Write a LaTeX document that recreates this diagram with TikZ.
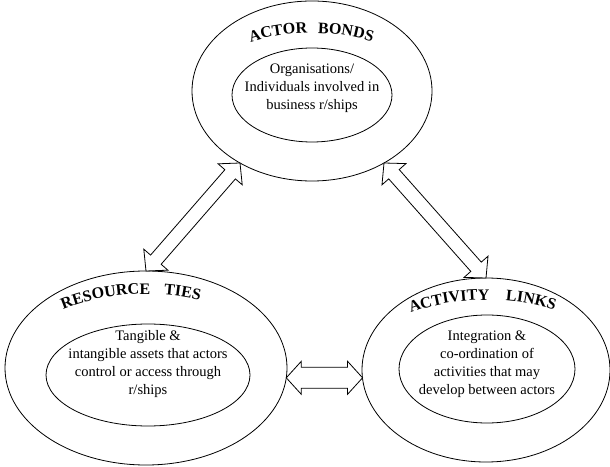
\documentclass[tikz,border=0pt]{standalone}
\usepackage{fontspec}
\setmainfont{Liberation Serif}
\usetikzlibrary{shapes.geometric,calc,decorations.text}
\newcommand\ttlfnt{\bfseries\fontsize{16}{16}\selectfont}
\newcommand\dblarrow[5]{%
  \coordinate (da1) at ($(#1)!#3!(#2)$);
  \coordinate (da2) at ($(#2)!#3!(#1)$);
  \draw[harrow] (#1) -- ($(da1)!#4!90:(#2)$) -- ($(da1)!#5!90:(#2)$)
    -- ($(da2)!#5!-90:(#1)$) -- ($(da2)!#4!-90:(#1)$) -- (#2)
    -- ($(da2)!#4!90:(#1)$) -- ($(da2)!#5!90:(#1)$)
    -- ($(da1)!#5!-90:(#2)$) -- ($(da1)!#4!-90:(#2)$) -- cycle;}
\begin{document}
\begin{tikzpicture}[x=1pt,y=1pt,
  ring/.style={ellipse,draw,line width=0.8pt,inner sep=0pt,outer sep=0pt},
  body/.style={align=center,font=\fontsize{14.5}{18}\selectfont,inner sep=0pt},
  harrow/.style={draw,line width=0.8pt,fill=white,line join=miter},
  ttl/.style={decorate,decoration={text along path,text align=center,text={|\ttlfnt|#1}}}]
\useasboundingbox (0,0) rectangle (610,466);
\fill[white] (0,0) rectangle (610,466);

% ACTOR BONDS
\node[ring,minimum width=240pt,minimum height=180pt] (actor) at (312,375) {};
\node[ring,minimum width=160pt,minimum height=94pt] (actorin) at (312,371) {};
\node[body] (actortxt) at (312,378) {Organisations/\\Individuals involved in\\business r/ships};
\path[ttl=ACTOR] (actor.center) ++(139:113pt and 58pt)
  arc[start angle=139,end angle=79,x radius=113pt,y radius=58pt];
\path[ttl=BONDS] (actor.center) ++(101:113pt and 58pt)
  arc[start angle=101,end angle=41,x radius=113pt,y radius=58pt];

% RESOURCE TIES
\node[ring,minimum width=282pt,minimum height=194pt] (resource) at (146,98) {};
\node[ring,minimum width=204pt,minimum height=102pt] (resourcein) at (148,91) {};
\node[body] (resourcetxt) at (148,102) {Tangible \&\\intangible assets that actors\\control or access through\\r/ships};
\path[ttl=RESOURCE] (resource.center) ++(139:135pt and 74pt)
  arc[start angle=139,end angle=79,x radius=135pt,y radius=74pt];
\path[ttl=TIES] (resource.center) ++(103:135pt and 74pt)
  arc[start angle=103,end angle=43,x radius=135pt,y radius=74pt];

% ACTIVITY LINKS
\node[ring,minimum width=248pt,minimum height=184pt] (activity) at (486,96) {};
\node[ring,minimum width=176pt,minimum height=108pt] (activityin) at (487,97) {};
\node[body] (activitytxt) at (487,101.5) {Integration \&\\co-ordination of\\activities that may\\develop between actors};
\path[ttl=ACTIVITY] (activity.center) ++(138:130pt and 70pt)
  arc[start angle=138,end angle=78,x radius=130pt,y radius=70pt];
\path[ttl=LINKS] (activity.center) ++(98:130pt and 70pt)
  arc[start angle=98,end angle=38,x radius=130pt,y radius=70pt];

% connectors
\coordinate (ra) at (resource.90);
\coordinate (ar) at (actor.225);
\coordinate (aa) at (actor.-45);
\coordinate (ca) at (activity.90);
\coordinate (rc) at (resource.-4);
\coordinate (cr) at (activity.184 |- rc);
\dblarrow{ra}{ar}{15pt}{16pt}{7pt}
\dblarrow{aa}{ca}{15pt}{16pt}{7pt}
\dblarrow{rc}{cr}{15pt}{16.5pt}{10.5pt}
\end{tikzpicture}
\end{document}
